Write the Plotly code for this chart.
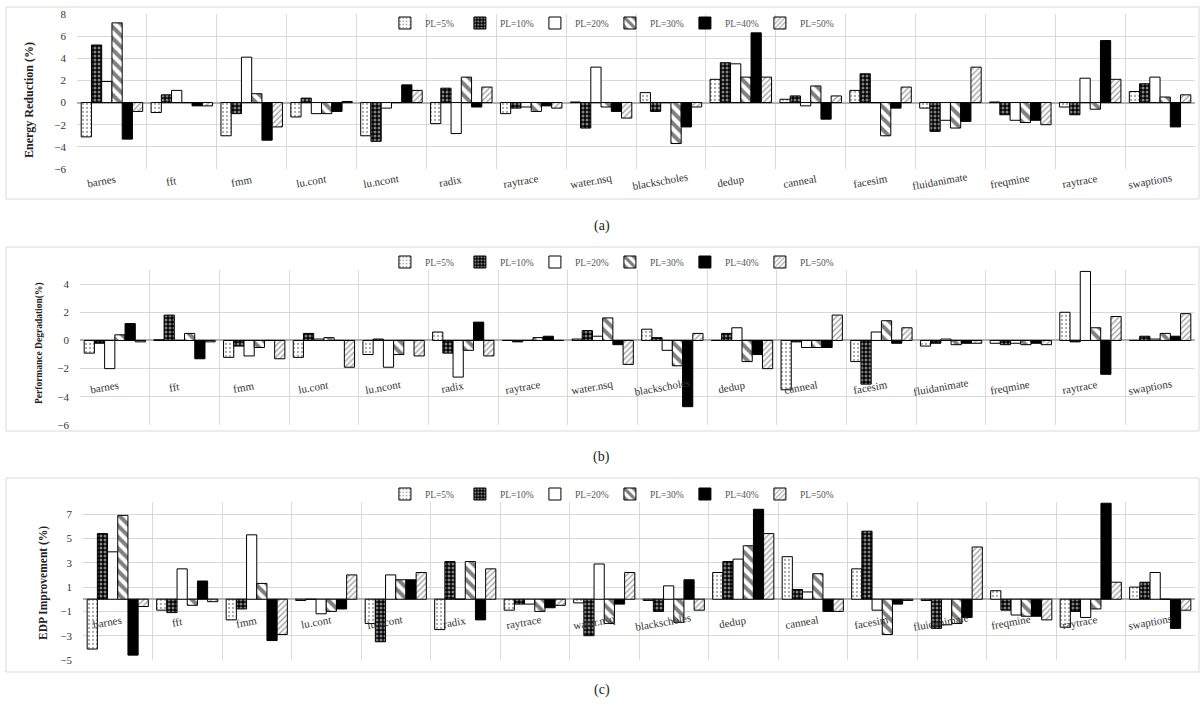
import plotly.graph_objects as go

W, H = 1203, 706

categories = ["barnes", "fft", "fmm", "lu.cont", "lu.ncont", "radix", "raytrace", "water.nsq",
              "blackscholes", "dedup", "canneal", "facesim", "fluidanimate", "freqmine", "raytrace", "swaptions"]
series_names = ["PL=5%", "PL=10%", "PL=20%", "PL=30%", "PL=40%", "PL=50%"]

# (a) Energy Reduction (%)
er_pl5 = [-3.1, -0.9, -3.0, -1.3, -3.0, -1.9, -1.0, 0.05, 0.9, 2.1, 0.3, 1.1, -0.5, 0.05, -0.4, 1.0]
er_pl10 = [5.2, 0.7, -1.0, 0.4, -3.5, 1.3, -0.5, -2.3, -0.8, 3.6, 0.6, 2.6, -2.6, -1.1, -1.1, 1.7]
er_pl20 = [1.9, 1.1, 4.1, -1.0, -0.5, -2.8, -0.4, 3.2, 0.0, 3.5, -0.3, 0.0, -1.6, -1.6, 2.2, 2.3]
er_pl30 = [7.2, 0.0, 0.8, -1.0, 0.0, 2.3, -0.8, -0.4, -3.7, 2.3, 1.5, -3.0, -2.3, -1.8, -0.6, 0.5]
er_pl40 = [-3.3, -0.3, -3.4, -0.8, 1.6, -0.4, -0.3, -0.8, -2.2, 6.3, -1.5, -0.5, -1.7, -1.6, 5.6, -2.2]
er_pl50 = [-0.8, -0.3, -2.2, 0.1, 1.1, 1.4, -0.5, -1.4, -0.4, 2.3, 0.6, 1.4, 3.2, -2.0, 2.1, 0.7]

# (b) Performance Degradation (%)
pd_pl5 = [-0.9, 0.05, -1.2, -1.2, -1.0, 0.6, 0.0, 0.1, 0.8, 0.0, -3.5, -1.5, -0.4, -0.2, 2.0, 0.0]
pd_pl10 = [-0.2, 1.8, -0.4, 0.5, 0.1, -0.9, -0.1, 0.7, 0.2, 0.5, -0.1, -3.1, -0.2, -0.3, -0.1, 0.3]
pd_pl20 = [-2.0, 0.0, -1.1, 0.1, -1.9, -2.6, 0.0, 0.3, -0.7, 0.9, -0.5, 0.6, 0.1, -0.2, 4.9, 0.1]
pd_pl30 = [0.4, 0.5, -0.5, 0.2, -1.0, -0.7, 0.2, 1.6, -1.8, -1.5, -0.5, 1.4, -0.3, -0.3, 0.9, 0.5]
pd_pl40 = [1.2, -1.3, 0.0, 0.0, 0.0, 1.3, 0.3, -0.3, -4.7, -1.0, -0.5, -0.2, -0.2, -0.2, -2.4, 0.3]
pd_pl50 = [-0.1, -0.1, -1.3, -1.9, -1.1, -1.1, 0.0, -1.7, 0.5, -2.0, 1.8, 0.9, -0.2, -0.3, 1.7, 1.9]

# (c) EDP Improvement (%)
edp_pl5 = [-4.1, -0.9, -1.7, -0.1, -2.0, -2.5, -0.9, -0.3, -0.1, 2.2, 3.5, 2.5, -0.1, 0.7, -2.3, 1.0]
edp_pl10 = [5.4, -1.1, -0.8, 0.0, -3.5, 3.1, -0.4, -3.0, -1.0, 3.1, 0.8, 5.6, -2.4, -0.9, -1.0, 1.4]
edp_pl20 = [3.9, 2.5, 5.3, -1.2, 2.0, 0.0, -0.4, 2.9, 1.1, 3.3, 0.6, -0.9, -2.1, -1.3, -1.5, 2.2]
edp_pl30 = [6.9, -0.5, 1.3, -1.0, 1.6, 3.1, -1.0, -2.0, -1.9, 4.4, 2.1, -2.9, -2.0, -1.4, -0.8, 0.0]
edp_pl40 = [-4.6, 1.5, -3.4, -0.8, 1.6, -1.7, -0.7, -0.4, 1.6, 7.4, -1.0, -0.4, -1.5, -1.4, 7.9, -2.4]
edp_pl50 = [-0.6, -0.2, -2.9, 2.0, 2.2, 2.5, -0.5, 2.2, -0.9, 5.4, -1.0, -0.1, 4.3, -1.7, 1.4, -0.9]

panels = [
    ([er_pl5, er_pl10, er_pl20, er_pl30, er_pl40, er_pl50], "Energy Reduction (%)"),
    ([pd_pl5, pd_pl10, pd_pl20, pd_pl30, pd_pl40, pd_pl50], "Performance Degradation(%)"),
    ([edp_pl5, edp_pl10, edp_pl20, edp_pl30, edp_pl40, edp_pl50], "EDP Improvement (%)"),
]

styles = [
    dict(color="white", pattern=dict(shape=".", fgcolor="#555555", bgcolor="white", size=4, solidity=0.25)),
    dict(color="black", pattern=dict(shape=".", fgcolor="white", bgcolor="black", size=4, solidity=0.45)),
    dict(color="white"),
    dict(color="white", pattern=dict(shape="\\", fgcolor="black", bgcolor="white", size=8, solidity=0.5)),
    dict(color="black"),
    dict(color="white", pattern=dict(shape="/", fgcolor="#444444", bgcolor="white", size=4, solidity=0.35)),
]

SERIF = "Liberation Serif, Times New Roman, serif"

def px_x(p):
    return p / W

def px_y(p):
    return 1 - p / H

spec = [
    dict(x0=77, x1=1195, top=14, bot=169, yr=[-6, 8], tick0=-6, dtick=2, leg_y=23,
         title_x=29, title_y=100, title_size=12, box=(6, 7, 1199, 199), cap_y=226, cap="(a)",
         lab_mode="paper", lab_y=181, standoff=10),
    dict(x0=80, x1=1195, top=270, bot=425, yr=[-6, 5], tick0=-6, dtick=2, leg_y=262,
         title_x=39, title_y=343, title_size=9.5, box=(6, 247, 1199, 431), cap_y=457, cap="(b)",
         lab_mode="data", lab_y=-3.3, standoff=10),
    dict(x0=83, x1=1195, top=502, bot=660, yr=[-5, 8], tick0=-5, dtick=2, leg_y=494,
         title_x=43, title_y=583, title_size=11.5, box=(6, 478, 1199, 672), cap_y=690, cap="(c)",
         lab_mode="data", lab_y=-1.9, standoff=10),
]

fig = go.Figure()
xs = list(range(len(categories)))
annotations = []
shapes = []

for p, ((vals, ytitle), sp) in enumerate(zip(panels, spec)):
    axn = "" if p == 0 else str(p + 1)
    legname = "legend" if p == 0 else f"legend{p + 1}"
    for s, (name, v) in enumerate(zip(series_names, vals)):
        st = styles[s]
        marker = dict(color=st["color"], line=dict(color="black", width=1))
        if "pattern" in st:
            marker["pattern"] = st["pattern"]
        fig.add_trace(go.Bar(x=xs, y=v, name=name, marker=marker,
                             xaxis="x" + axn, yaxis="y" + axn, legend=legname,
                             showlegend=True))
    fig.layout["xaxis" + axn] = dict(
        domain=[px_x(sp["x0"]), px_x(sp["x1"])], anchor="y" + axn,
        range=[-0.5, len(categories) - 0.5], tickmode="linear", tick0=-0.5, dtick=1,
        showticklabels=False, showgrid=True, gridcolor="#d9d9d9", gridwidth=1,
        zeroline=False, showline=False, ticks="", automargin=False)
    fig.layout["yaxis" + axn] = dict(
        domain=[px_y(sp["bot"]), px_y(sp["top"])], anchor="x" + axn,
        range=sp["yr"], tickmode="linear", tick0=sp["tick0"], dtick=sp["dtick"],
        showgrid=True, gridcolor="#d9d9d9", gridwidth=1,
        zeroline=True, zerolinecolor="#b0b0b0", zerolinewidth=1.5,
        tickfont=dict(family=SERIF, size=11, color="#333333"), ticks="", showline=False,
        ticklabelstandoff=sp["standoff"], automargin=False)
    fig.layout[legname] = dict(
        orientation="h", x=0.507, xanchor="center", y=px_y(sp["leg_y"]), yanchor="middle",
        font=dict(family=SERIF, size=9.5, color="#555555"), bgcolor="rgba(0,0,0,0)",
        itemwidth=30, tracegroupgap=0, entrywidth=30, entrywidthmode="pixels")
    annotations.append(dict(text=f"<b>{ytitle}</b>", x=px_x(sp["title_x"]), y=px_y(sp["title_y"]),
                            xref="paper", yref="paper", textangle=-90, showarrow=False,
                            xanchor="center", yanchor="middle",
                            font=dict(family=SERIF, size=sp["title_size"], color="#222222")))
    for i, c in enumerate(categories):
        if sp["lab_mode"] == "paper":
            annotations.append(dict(text=c, x=i - 0.15, y=px_y(sp["lab_y"]), xref="x" + axn, yref="paper",
                                    textangle=-10, showarrow=False, xanchor="center", yanchor="middle",
                                    font=dict(family=SERIF, size=11, color="#333333")))
        else:
            annotations.append(dict(text=c, x=i - 0.15, y=sp["lab_y"], xref="x" + axn, yref="y" + axn,
                                    textangle=-10, showarrow=False, xanchor="center", yanchor="middle",
                                    font=dict(family=SERIF, size=11, color="#333333")))
    annotations.append(dict(text=sp["cap"], x=0.5, y=px_y(sp["cap_y"]), xref="paper", yref="paper",
                            showarrow=False, xanchor="center", yanchor="middle",
                            font=dict(family=SERIF, size=14, color="#222222")))
    bx0, by0, bx1, by1 = sp["box"]
    shapes.append(dict(type="rect", xref="paper", yref="paper", x0=px_x(bx0), x1=px_x(bx1),
                       y0=px_y(by1), y1=px_y(by0), line=dict(color="#d9d9d9", width=1)))

fig.update_layout(
    width=W, height=H, margin=dict(l=0, r=0, t=0, b=0, autoexpand=False),
    paper_bgcolor="white", plot_bgcolor="white",
    barmode="group", bargap=0.12, bargroupgap=0.0,
    annotations=annotations, shapes=shapes,
    font=dict(family=SERIF),
)

fig.write_html("out.html", config={"displayModeBar": False},
               post_script="document.body.style.margin='0px';document.body.style.overflow='hidden';")
